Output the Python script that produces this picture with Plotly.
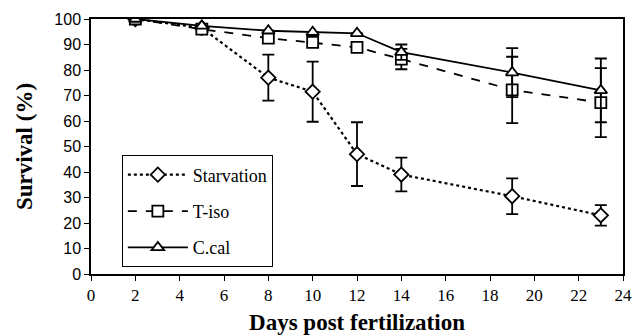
import plotly.graph_objects as go

days = [2, 5, 8, 10, 12, 14, 19, 23]
starvation = [100, 96.5, 77, 71.5, 47, 39, 30.5, 23]
starvation_err = [None, None, 9, 11.8, 12.5, 6.6, 7, 4]
t_iso = [100, 96, 92.5, 90.8, 88.9, 84.3, 72.2, 67.2]
t_iso_err = [None, None, None, None, None, 4, 13, 13.5]
c_cal = [100, 97.3, 95.4, 94.8, 94.4, 87, 79, 72]
c_cal_err = [None, None, None, None, None, 3, 9.6, 12.5]

names = ["Starvation", "T-iso", "C.cal"]
series = [starvation, t_iso, c_cal]
errs = [starvation_err, t_iso_err, c_cal_err]
dashes = ["dot", "dash", "solid"]
symbols = ["diamond", "square", "triangle-up"]

fig = go.Figure()
for n, s, e, d, sym in zip(names, series, errs, dashes, symbols):
    fig.add_trace(go.Scatter(
        x=days, y=s, name=n, mode="lines+markers", legendgroup=n,
        line=dict(color="black", width=1.8 if d != "dot" else 2.2, dash=d),
        marker=dict(symbol=sym, size=11, color="white", line=dict(color="black", width=1.8)),
        error_y=dict(type="data", array=e, visible=True, color="black", thickness=1.8, width=6),
    ))

# page body has an 8px margin, so the figure is sized 8px smaller
fig.update_layout(
    width=634, height=328,
    margin=dict(l=83, r=19, t=11, b=62),
    paper_bgcolor="white", plot_bgcolor="white",
    showlegend=True,
    legend=dict(
        x=0.058, y=0.465, xanchor="left", yanchor="top",
        bordercolor="black", borderwidth=1, bgcolor="white",
        font=dict(family="Liberation Serif, Times New Roman, serif", size=18, color="black"),
        tracegroupgap=10, itemwidth=60,
    ),
    xaxis=dict(
        range=[0, 24], tickmode="linear", tick0=0, dtick=2,
        showgrid=False, zeroline=False, automargin=False,
        showline=True, linecolor="black", linewidth=1.5, mirror=True,
        ticks="outside", ticklen=5, tickcolor="black",
        tickfont=dict(family="Liberation Serif, Times New Roman, serif", size=17, color="black"),
        title=dict(text="<b>Days post fertilization</b>",
                   font=dict(family="Liberation Serif, Times New Roman, serif", size=23, color="black"), standoff=10),
    ),
    yaxis=dict(
        range=[0, 100], tickmode="linear", tick0=0, dtick=10,
        showgrid=False, zeroline=False, automargin=False,
        showline=True, linecolor="black", linewidth=1.5, mirror=True,
        ticks="outside", ticklen=5, tickcolor="black",
        tickfont=dict(family="Liberation Sans, Arial, sans-serif", size=16, color="black"),
        title=dict(text="<b>Survival (%)</b>",
                   font=dict(family="Liberation Serif, Times New Roman, serif", size=23, color="black"), standoff=15),
    ),
)

fig.write_html("out.html")
